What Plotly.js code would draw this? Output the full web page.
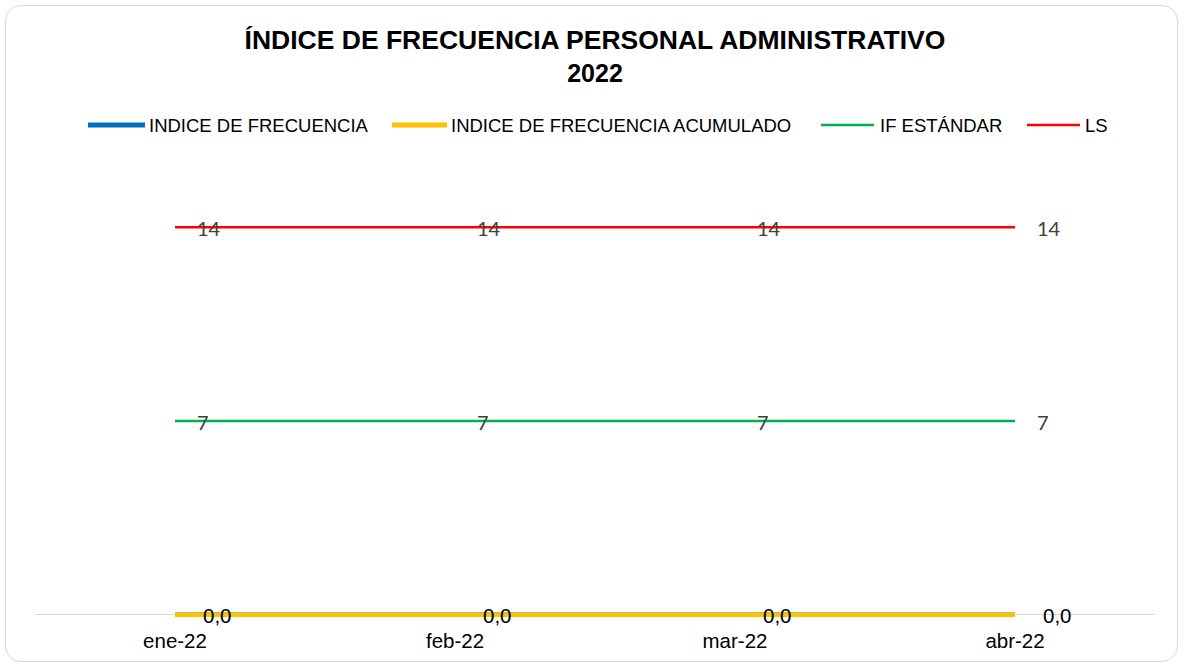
<!DOCTYPE html>
<html>
<head>
<meta charset="utf-8">
<script src="https://cdn.plot.ly/plotly-3.0.1.min.js"></script>
<style>
  html, body { margin: 0; padding: 0; background: #ffffff; }
  #frame { position: absolute; left: 5px; top: 5px; width: 1173px; height: 657px;
           box-sizing: border-box; border: 1px solid #d9d9d9; border-radius: 16px; overflow: hidden; background:#fff; }
  #chart { width: 1171px; height: 655px; }
</style>
</head>
<body>
<div id="frame"><div id="chart"></div></div>
<script>
// ---- data ----
const months = ['ene-22', 'feb-22', 'mar-22', 'abr-22'];
const indiceFrecuencia = [0, 0, 0, 0];
const indiceFrecuenciaAcumulado = [0, 0, 0, 0];
const ifEstandar = [7, 7, 7, 7];
const ls = [14, 14, 14, 14];

const seriesNames = ['INDICE DE FRECUENCIA', 'INDICE DE FRECUENCIA ACUMULADO', 'IF ESTÁNDAR', 'LS'];
const seriesColors = ['#0070c0', '#ffc000', '#00b050', '#ff0000'];
const seriesWidths = [4.5, 4.5, 2.5, 2.5];

const FONT = 'Arial, "Liberation Sans", sans-serif';

const seriesData = [indiceFrecuencia, indiceFrecuenciaAcumulado, ifEstandar, ls];
const traces = seriesData.map((vals, k) => ({
  x: months, y: vals, name: seriesNames[k], type: 'scatter', mode: 'lines', showlegend: false,
  line: { color: seriesColors[k], width: seriesWidths[k] }
}));

// ---- geometry ----
const W = 1171, H = 655;
const M = { l: 29, r: 22, t: 166, b: 38 };
const ORIGIN = 6; // page offset of the chart inside the frame
const plotW = W - M.l - M.r, plotH = H - M.t - M.b;
const px2paperX = p => (p - ORIGIN - M.l) / plotW;
const py2paperY = p => (H - M.b - (p - ORIGIN)) / plotH;

const annotations = [];
const shapes = [];

function addLabels(vals, fmt, font, xshift, yshift) {
  vals.forEach((v, i) => {
    annotations.push({ x: months[i], y: v, xref: 'x', yref: 'y', text: fmt(v),
      showarrow: false, xanchor: 'left', yanchor: 'middle', xshift: xshift, yshift: yshift, font: font });
  });
}
const labelFont = { family: 'Lato, "Open Sans", sans-serif', size: 20, color: '#404040' };
addLabels(ls, v => String(v), labelFont, 20, -1);
addLabels(ifEstandar, v => String(v), labelFont, 20, -1);
addLabels(indiceFrecuenciaAcumulado, v => v.toFixed(1).replace('.', ','), { family: FONT, size: 20.5, color: '#000000' }, 26, -1);

// ---- legend (drawn manually to match long symbol lines) ----
const legendY = 125;
const legendItems = [ // [line start, line end, text start] in page px
  [88, 145, 147], [392, 447, 449], [821, 874, 878], [1027, 1080, 1083]
];
legendItems.forEach((it, k) => {
  shapes.push({ type: 'line', xref: 'paper', yref: 'paper',
    x0: px2paperX(it[0]), x1: px2paperX(it[1]), y0: py2paperY(legendY), y1: py2paperY(legendY),
    line: { color: seriesColors[k], width: k < 2 ? 5 : 2.5 } });
  annotations.push({ xref: 'paper', yref: 'paper', x: px2paperX(it[2]), y: py2paperY(legendY + 1),
    text: seriesNames[k], showarrow: false, xanchor: 'left', yanchor: 'middle',
    font: { family: FONT, size: 18.5, color: '#000000' } });
});

const layout = {
  width: W, height: H,
  margin: M,
  paper_bgcolor: 'rgba(0,0,0,0)', plot_bgcolor: 'rgba(0,0,0,0)',
  title: { text: '<b><span style="font-size:26.5px">ÍNDICE DE FRECUENCIA PERSONAL ADMINISTRATIVO</span><br>2022</b>',
    font: { family: FONT, size: 25, color: '#000000' },
    x: 0.5, xref: 'paper', xanchor: 'center', y: 0.934, yref: 'container', yanchor: 'top' },
  showlegend: false,
  xaxis: { type: 'category', range: [-0.5, 3.5], showline: false, showgrid: false, zeroline: false,
    ticks: '', ticklabelstandoff: 3, tickfont: { family: FONT, size: 20.5, color: '#000000' }, fixedrange: true },
  yaxis: { range: [-0.3, 16], visible: true, showticklabels: false, showgrid: false, showline: false,
    ticks: '', zeroline: true, zerolinecolor: '#d9d9d9', zerolinewidth: 1.5, fixedrange: true },
  annotations: annotations,
  shapes: shapes
};

Plotly.newPlot('chart', traces, layout, { displayModeBar: false, staticPlot: true });
</script>
</body>
</html>
